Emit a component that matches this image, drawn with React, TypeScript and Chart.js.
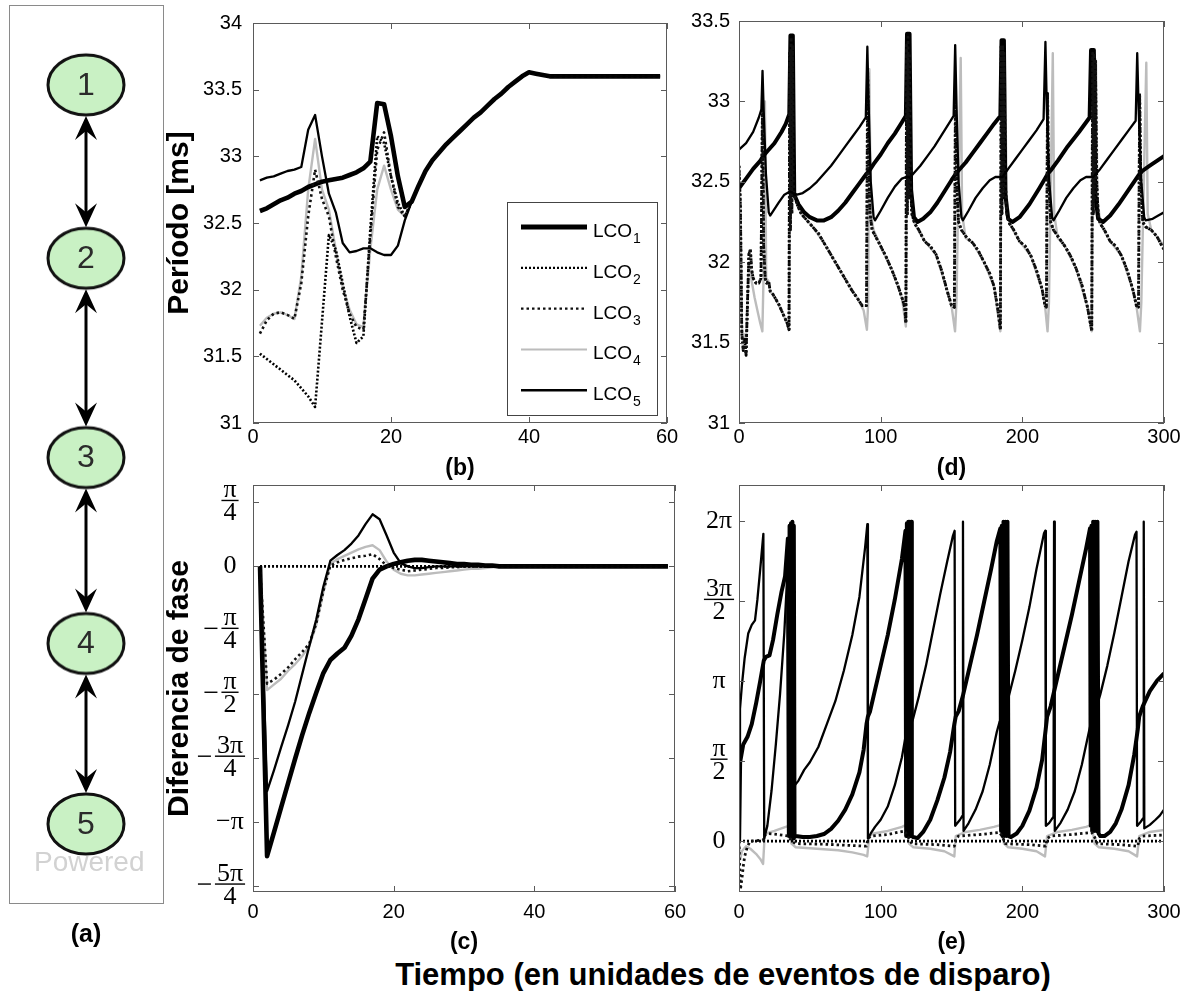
import React, { useEffect, useRef } from 'react';
import { Chart, registerables } from 'chart.js';

Chart.register(...registerables);

const SANS = "'Liberation Sans', Arial, Helvetica, sans-serif";
const SERIF = "'Liberation Serif', 'Times New Roman', serif";
const PI = Math.PI;

const seriesLabels = ['LCO1', 'LCO2', 'LCO3', 'LCO4', 'LCO5'];

// ---------------- (a) network diagram ----------------
const nodeLabels = ['1', '2', '3', '4', '5'];
const nodeX = [0.5, 0.5, 0.5, 0.5, 0.5];
const nodeY = [8.9, 28.2, 50.4, 71.1, 91.2];
const nodeEdges = [[0, 1], [1, 2], [2, 3], [3, 4]];

// ---------------- (b) period, first 60 events ----------------
const bX = [1, 2, 3, 4, 5, 6, 7, 8, 9, 10, 11, 12, 13, 14, 15, 16, 17, 18, 19, 20, 21, 22, 23, 24, 25, 26, 27, 28, 29, 30,
  31, 32, 33, 34, 35, 36, 37, 38, 39, 40, 41, 42, 43, 44, 45, 46, 47, 48, 49, 50, 51, 52, 53, 54, 55, 56, 57, 58, 59];
const bTail = [32.78, 32.89, 32.97, 33.03, 33.09, 33.14, 33.19, 33.24, 33.29, 33.33, 33.38, 33.43, 33.47, 33.52, 33.56,
  33.60, 33.63, 33.62, 33.61, 33.60, 33.60, 33.60, 33.60, 33.60, 33.60, 33.60, 33.60, 33.60, 33.60, 33.60, 33.60, 33.60,
  33.60, 33.60, 33.60, 33.60];
const bLCO1 = [32.59, 32.61, 32.64, 32.67, 32.69, 32.72, 32.74, 32.77, 32.79, 32.81, 32.82, 32.83, 32.84, 32.86, 32.88,
  32.91, 32.96, 33.40, 33.39, 33.15, 32.85, 32.62, 32.66];
const bLCO2 = [31.52, 31.48, 31.44, 31.40, 31.36, 31.32, 31.26, 31.20, 31.12, 31.76, 32.41, 32.30, 32.05, 31.80, 31.60,
  31.65, 32.45, 33.15, 33.10, 32.85, 32.65, 32.55, 32.66];
const bLCO3 = [31.67, 31.77, 31.82, 31.83, 31.81, 31.78, 32.05, 32.55, 32.90, 32.68, 32.55, 32.25, 32.00, 31.82, 31.72,
  31.70, 32.40, 33.05, 33.18, 32.85, 32.62, 32.55, 32.66];
const bLCO4 = [31.73, 31.79, 31.82, 31.83, 31.81, 31.78, 32.10, 32.75, 33.13, 32.75, 32.60, 32.30, 32.02, 31.85, 31.74,
  31.72, 32.30, 32.75, 32.93, 32.75, 32.60, 32.55, 32.66];
const bLCO5 = [32.82, 32.84, 32.85, 32.87, 32.89, 32.90, 32.92, 33.20, 33.31, 33.00, 32.72, 32.58, 32.35, 32.28, 32.29,
  32.31, 32.31, 32.28, 32.26, 32.26, 32.33, 32.52, 32.66];

// ---------------- (c) phase difference, first 60 events ----------------
const cX = bX;
const cTail = [0, 0, 0, 0, 0, 0, 0, 0, 0, 0, 0, 0, 0, 0, 0, 0, 0, 0, 0, 0, 0, 0, 0, 0];
const cLCO1 = [0, -3.56, -3.26, -2.96, -2.66, -2.36, -2.07, -1.80, -1.55, -1.31, -1.15, -1.07, -1.00, -0.85, -0.65,
  -0.40, -0.15, -0.04, 0.00, 0.03, 0.05, 0.07, 0.08, 0.08, 0.07, 0.06, 0.05, 0.04, 0.03, 0.03, 0.02, 0.02, 0.01, 0.01, 0];
const cLCO2 = [0, 0, 0, 0, 0, 0, 0, 0, 0, 0, 0, 0, 0, 0, 0, 0, 0, 0, 0, 0, 0, 0, 0, 0, 0, 0, 0, 0, 0, 0, 0, 0, 0, 0, 0];
const cLCO3 = [0, -1.44, -1.39, -1.32, -1.24, -1.14, -1.05, -0.95, -0.70, -0.30, 0.01, 0.05, 0.08, 0.10, 0.12, 0.13,
  0.15, 0.09, 0.01, -0.02, -0.04, -0.06, -0.05, -0.04, -0.03, -0.02, -0.02, -0.01, -0.01, 0, 0, 0, 0, 0, 0];
const cLCO4 = [0, -1.52, -1.45, -1.38, -1.28, -1.20, -1.10, -0.98, -0.72, -0.32, 0.03, 0.09, 0.13, 0.17, 0.21, 0.24,
  0.26, 0.20, 0.06, -0.04, -0.09, -0.11, -0.11, -0.10, -0.09, -0.08, -0.07, -0.06, -0.05, -0.04, -0.03, -0.03, -0.02,
  -0.01, 0];
const cLCO5 = [0, -2.76, -2.50, -2.22, -1.95, -1.66, -1.32, -0.98, -0.65, -0.25, 0.07, 0.14, 0.20, 0.28, 0.38, 0.52,
  0.64, 0.58, 0.38, 0.17, 0.04, 0.00, -0.02, -0.02, -0.01, 0, 0, 0, 0, 0, 0, 0, 0, 0, 0];
const cTickValues = [-5 * PI / 4, -PI, -3 * PI / 4, -PI / 2, -PI / 4, 0, PI / 4];
const cTickLabels = [
  { neg: true, num: '5π', den: '4' }, { neg: true, num: 'π' }, { neg: true, num: '3π', den: '4' },
  { neg: true, num: 'π', den: '2' }, { neg: true, num: 'π', den: '4' }, { num: '0' }, { num: 'π', den: '4' },
];

// ---------------- (d) period, 300 events (x, value) ----------------
const dLCO1: [number, number][] = [[0, 32.46], [5, 32.52], [10, 32.58], [15, 32.63], [17, 32.66], [20, 32.69], [25, 32.74],
  [30, 32.81], [33, 32.86], [35.5, 32.92], [36.3, 33.41], [38, 33.41], [39, 32.42], [42, 32.36], [46, 32.31], [50, 32.28],
  [55, 32.26], [60, 32.26], [65, 32.28], [70, 32.32], [75, 32.37], [80, 32.43], [85, 32.49], [90, 32.55], [92, 32.57],
  [95, 32.61], [100, 32.67], [105, 32.74], [110, 32.80], [115, 32.87], [117.8, 32.91], [118.6, 33.42], [120.4, 33.42],
  [121.5, 32.45], [123.5, 32.28], [126, 32.25], [130, 32.27], [135, 32.31], [140, 32.37], [145, 32.44], [150, 32.51],
  [153, 32.55], [155, 32.57], [160, 32.62], [165, 32.68], [170, 32.74], [175, 32.80], [180, 32.86], [184.5, 32.91],
  [185.3, 33.38], [187, 33.38], [188, 32.42], [190, 32.27], [193, 32.25], [198, 32.28], [205, 32.36], [212, 32.46],
  [218, 32.55], [220, 32.57], [225, 32.63], [232, 32.72], [240, 32.81], [247.5, 32.90], [248.5, 33.32], [250.5, 33.32],
  [251.5, 32.42], [253.5, 32.27], [257, 32.25], [262, 32.29], [268, 32.36], [275, 32.45], [282, 32.54], [285, 32.57],
  [290, 32.60], [295, 32.63], [300, 32.66]];
const dLCO2: [number, number][] = [[0, 32.60], [1, 32.35], [2, 31.55], [3, 31.45], [4, 31.52], [5, 31.42], [6, 31.75],
  [7, 32.05], [8, 32.08], [9, 31.95], [10, 31.90], [12, 31.87], [14, 31.87], [15.5, 31.90], [16.6, 33.00], [17.4, 32.10],
  [18.5, 31.90], [19.5, 31.87], [21, 31.88], [22, 31.82], [24, 31.80], [26, 31.77], [28, 31.74], [30, 31.70], [32, 31.66],
  [34, 31.62], [35.3, 31.58], [35.8, 33.30], [36.3, 32.20], [36.8, 33.40], [37.3, 32.30], [37.8, 33.35], [38.3, 32.50],
  [39, 32.42], [41, 32.36], [44, 32.30], [48, 32.26], [52, 32.22], [56, 32.18], [60, 32.12], [64, 32.06], [68, 32.00],
  [72, 31.94], [76, 31.88], [80, 31.82], [84, 31.77], [87, 31.73], [90, 31.73], [90.8, 33.20], [91.6, 32.60], [92.5, 32.30],
  [94, 32.20], [97, 32.15], [100, 32.10], [104, 32.03], [108, 31.95], [112, 31.86], [115, 31.78], [117, 31.72],
  [117.8, 31.62], [118.3, 33.35], [118.8, 32.30], [119.3, 33.40], [119.8, 32.40], [120.3, 33.30], [121, 32.50],
  [122, 32.30], [124, 32.24], [127, 32.20], [131, 32.13], [135, 32.10], [139, 32.05], [143, 31.95], [147, 31.82],
  [150, 31.73], [152, 31.72], [152.8, 33.05], [153.6, 32.50], [155, 32.25], [157, 32.20], [161, 32.15], [165, 32.12],
  [169, 32.07], [173, 32.00], [177, 31.93], [180, 31.85], [182.5, 31.72], [184.5, 31.58], [185.1, 33.35], [185.6, 32.30],
  [186.1, 33.35], [186.6, 32.40], [187.1, 33.30], [188, 32.50], [189, 32.30], [191, 32.24], [194, 32.20], [198, 32.13],
  [202, 32.10], [206, 32.04], [210, 31.95], [214, 31.83], [216, 31.73], [217, 31.72], [217.8, 33.05], [218.6, 32.50],
  [220, 32.25], [222, 32.20], [226, 32.15], [230, 32.10], [234, 32.04], [238, 31.96], [242, 31.86], [246, 31.72],
  [248, 31.62], [249, 31.57], [249.6, 33.30], [250.1, 32.30], [250.6, 33.30], [251.1, 32.40], [251.6, 33.25],
  [252.5, 32.50], [253.5, 32.30], [255, 32.24], [258, 32.20], [262, 32.13], [266, 32.10], [270, 32.04], [274, 31.95],
  [278, 31.83], [280.5, 31.73], [282, 31.72], [282.8, 33.05], [283.6, 32.50], [285, 32.25], [287, 32.22], [291, 32.20],
  [295, 32.16], [298, 32.11], [300, 32.08]];
const dLCO3 = dLCO2;
const dLCO4: [number, number][] = [[0, 32.55], [1, 32.35], [2, 31.60], [3, 31.50], [4, 31.55], [5, 31.50], [6, 31.75],
  [7, 32.00], [8, 31.95], [9, 31.88], [11, 31.78], [13, 31.70], [15, 31.62], [16.5, 31.57], [17.3, 31.90], [18.3, 33.00],
  [19.2, 31.90], [21, 31.88], [22, 31.82], [26, 31.77], [30, 31.70], [34, 31.62], [35.3, 31.58], [36.5, 33.35],
  [38, 33.35], [39, 32.42], [44, 32.30], [52, 32.22], [60, 32.12], [68, 32.00], [76, 31.88], [84, 31.77], [88, 31.70],
  [90.3, 31.58], [91.2, 31.75], [92, 33.20], [93, 32.30], [95, 32.20], [100, 32.10], [108, 31.95], [115, 31.78],
  [117.8, 31.60], [118.8, 33.35], [120.3, 33.30], [121.5, 32.40], [124, 32.24], [131, 32.13], [139, 32.05], [147, 31.82],
  [150, 31.73], [152.5, 31.57], [153.5, 31.75], [156.5, 33.27], [157.5, 32.30], [160, 32.15], [165, 32.12], [173, 32.00],
  [180, 31.85], [184.5, 31.57], [185.5, 33.35], [187.5, 33.30], [189, 32.40], [191, 32.24], [198, 32.13], [206, 32.04],
  [214, 31.83], [216, 31.73], [217.8, 31.57], [218.8, 31.75], [221.5, 33.30], [222.5, 32.30], [225, 32.15], [230, 32.10],
  [238, 31.96], [246, 31.72], [249, 31.57], [250, 33.30], [252, 33.25], [253, 32.40], [255, 32.24], [262, 32.13],
  [270, 32.04], [278, 31.83], [280.5, 31.73], [283, 31.57], [284, 31.75], [287.5, 33.24], [288.5, 32.30], [291, 32.20],
  [295, 32.16], [300, 32.10]];
const dLCO5: [number, number][] = [[0, 32.70], [5, 32.74], [10, 32.81], [14, 32.90], [15.8, 32.95], [16.6, 33.19],
  [17.4, 32.95], [19, 32.55], [21, 32.31], [22, 32.29], [25, 32.33], [28, 32.37], [32, 32.42], [36, 32.44], [38, 32.43],
  [41, 32.42], [45, 32.43], [50, 32.46], [55, 32.50], [60, 32.55], [65, 32.60], [70, 32.66], [75, 32.72], [80, 32.78],
  [85, 32.84], [89.5, 32.90], [90.6, 33.34], [91.6, 32.95], [93, 32.50], [95, 32.28], [96, 32.26], [100, 32.32],
  [105, 32.40], [110, 32.47], [115, 32.52], [118, 32.53], [121, 32.53], [123, 32.55], [128, 32.60], [133, 32.66],
  [138, 32.72], [143, 32.79], [148, 32.86], [151.5, 32.91], [152.6, 33.35], [153.6, 32.95], [155, 32.50], [157, 32.28],
  [158, 32.26], [162, 32.32], [167, 32.40], [172, 32.46], [177, 32.51], [181, 32.53], [186, 32.53], [190, 32.58],
  [195, 32.64], [200, 32.70], [205, 32.76], [210, 32.82], [215, 32.89], [216.3, 33.37], [217.3, 32.95], [219, 32.50],
  [221, 32.28], [222, 32.26], [226, 32.32], [231, 32.40], [236, 32.46], [241, 32.51], [245, 32.53], [250, 32.53],
  [255, 32.58], [260, 32.64], [265, 32.70], [270, 32.76], [275, 32.82], [280, 32.88], [281.1, 33.30], [282.1, 32.95],
  [284, 32.50], [286, 32.28], [287, 32.26], [292, 32.27], [296, 32.29], [300, 32.31]];

// ---------------- (e) phase difference, 300 events (x, value) ----------------
const eLCO1: [number, number][] = [[0, 0], [0.8, 1.55], [3, 1.90], [6, 2.05], [9, 2.30], [12, 2.70], [15, 3.15],
  [17.5, 3.55], [19, 3.62], [21.5, 3.65], [24, 3.95], [27, 4.45], [30, 4.90], [32.5, 5.20], [34.5, 5.95], [35.2, 0.10],
  [35.7, 6.20], [36.2, 0.10], [36.7, 6.25], [37.2, 0.10], [37.7, 6.28], [38.2, 0.05], [38.7, 6.20], [39.2, 0.08],
  [40, 0.10], [45, 0.08], [50, 0.08], [55, 0.10], [60, 0.14], [65, 0.24], [70, 0.40], [75, 0.62], [80, 0.92], [85, 1.35],
  [88, 1.80], [90, 2.30], [91, 2.45], [92.5, 2.55], [95, 2.85], [100, 3.45], [105, 4.05], [110, 4.75], [115, 5.55],
  [117.5, 6.10], [118, 0.10], [118.5, 6.25], [119, 0.15], [119.5, 6.28], [120, 0.10], [120.5, 6.28], [121, 0.10],
  [121.5, 6.28], [122, 0.10], [123, 0.08], [126, 0.06], [130, 0.18], [135, 0.42], [140, 0.80], [145, 1.25], [149, 1.75],
  [152, 2.30], [153, 2.45], [155, 2.55], [158, 2.85], [163, 3.45], [168, 4.05], [173, 4.70], [178, 5.35], [182, 5.90],
  [184.5, 6.15], [185, 0.20], [185.5, 6.20], [186, 0.10], [186.7, 6.28], [187.3, 0.10], [188, 6.28], [188.7, 0.10],
  [189.5, 6.28], [190.3, 0.10], [192, 0.08], [196, 0.15], [200, 0.30], [205, 0.60], [210, 1.05], [214, 1.60],
  [216.5, 2.20], [217.5, 2.45], [220, 2.65], [225, 3.25], [230, 3.85], [235, 4.45], [240, 5.10], [245, 5.75],
  [247.8, 6.15], [248.3, 0.30], [248.8, 6.20], [249.3, 0.20], [250, 6.28], [250.7, 0.20], [251.4, 6.28], [252.2, 0.20],
  [253, 6.28], [253.8, 0.15], [255, 0.10], [258, 0.10], [262, 0.18], [266, 0.35], [270, 0.62], [275, 1.10], [279, 1.70],
  [281.5, 2.20], [282.5, 2.45], [285, 2.65], [290, 2.95], [295, 3.15], [300, 3.30]];
const eLCO2: [number, number][] = [[0, 0], [300, 0]];
const eLCO3: [number, number][] = [[0, 0], [1, -0.95], [2, -0.75], [3, -0.50], [4, -0.30], [6, -0.10], [8, 0],
  [17, 0.02], [18, 0.12], [20, 0.15], [27, 0.13], [35, 0.10], [37, 0], [40, -0.05], [60, -0.06], [75, -0.08], [90, -0.10],
  [91, 0.05], [93, 0.10], [105, 0.13], [117, 0.20], [119, 0.10], [122, -0.05], [140, -0.07], [152, -0.10], [153, 0.05],
  [155, 0.10], [170, 0.13], [184, 0.17], [186, 0.08], [188, -0.05], [205, -0.07], [216.5, -0.10], [217.5, 0.05],
  [220, 0.10], [235, 0.13], [249, 0.17], [251, 0.08], [253, -0.05], [270, -0.07], [281.5, -0.10], [282.5, 0.05],
  [285, 0.10], [300, 0.12]];
const eLCO4: [number, number][] = [[0, 0], [1, -0.35], [2, -0.20], [5, -0.10], [8, -0.15], [12, -0.25], [15, -0.35],
  [17, -0.45], [18, 0.05], [19, 0.15], [25, 0.20], [30, 0.25], [35, 0.30], [37, -0.05], [40, -0.12], [50, -0.14],
  [60, -0.16], [70, -0.18], [80, -0.22], [88, -0.27], [90.5, -0.30], [92, 0.10], [95, 0.15], [105, 0.20], [115, 0.28],
  [118, 0.32], [120, -0.05], [123, -0.12], [135, -0.15], [145, -0.20], [152, -0.30], [153, 0.10], [160, 0.18],
  [170, 0.22], [180, 0.28], [185, 0.32], [187, -0.05], [190, -0.12], [200, -0.15], [210, -0.20], [216, -0.30],
  [217.5, 0.10], [225, 0.18], [235, 0.22], [245, 0.28], [249, 0.32], [251, -0.05], [254, -0.12], [265, -0.15],
  [275, -0.20], [281, -0.30], [282.5, 0.10], [290, 0.18], [300, 0.22]];
const eLCO5: [number, number][] = [[0, 0], [0.7, 2.60], [2, 3.05], [4, 3.60], [6.5, 4.08], [9, 4.25], [11.3, 4.34],
  [13, 4.75], [15, 5.35], [17.2, 6.04], [17.8, 0.05], [20, 0.30], [23, 1.00], [26, 1.90], [29, 2.90], [32, 4.10],
  [34, 5.20], [35.5, 6.00], [36.2, 0.20], [37.2, 6.20], [38.2, 0.30], [39.5, 1.10], [42, 1.19], [46, 1.40], [50, 1.55],
  [56, 1.85], [62, 2.30], [68, 2.75], [74, 3.35], [80, 4.05], [85, 4.80], [89, 5.77], [90.6, 6.23], [91, 0.05],
  [93, 0.15], [96, 0.28], [100, 0.42], [105, 0.68], [110, 1.10], [115, 1.65], [117.5, 2.05], [119, 2.20], [121.5, 2.30],
  [123, 2.42], [127, 2.85], [132, 3.45], [137, 4.15], [142, 4.85], [147, 5.50], [151, 6.00], [152.2, 6.10],
  [152.6, 0.30], [154, 0.35], [156, 0.42], [157.8, 0.50], [158.1, 6.28], [158.5, 0.20], [162, 0.35], [167, 0.62],
  [172, 0.98], [177, 1.50], [182, 2.15], [184, 2.35], [187, 2.50], [190, 2.80], [195, 3.35], [200, 3.95], [205, 4.60],
  [210, 5.35], [215.3, 6.05], [216.2, 6.10], [216.6, 0.30], [219, 0.36], [222, 0.48], [222.4, 6.28], [222.9, 0.20],
  [227, 0.36], [232, 0.62], [237, 0.98], [242, 1.50], [247, 2.15], [249, 2.40], [252, 2.60], [255, 2.88], [260, 3.45],
  [265, 4.10], [270, 4.80], [275, 5.50], [279.5, 6.02], [280.6, 6.08], [281, 0.30], [283, 0.36], [285.3, 0.45],
  [285.7, 6.28], [286.1, 0.25], [290, 0.32], [294, 0.42], [297, 0.50], [300, 0.62]];
const eTickValues = [0, PI / 2, PI, 3 * PI / 2, 2 * PI];
const eTickLabels = [{ num: '0' }, { num: 'π', den: '2' }, { num: 'π' }, { num: '3π', den: '2' }, { num: '2π' }];

// ---------------- styling ----------------
const lineColors = ['#000000', '#000000', '#111111', '#bcbcbc', '#000000'];
const lineDashes = [[], [2, 2], [2.5, 3], [], []];
const lineOrder = [4, 3, 2, 10, 1]; // gray LCO4 underneath, thin LCO5 on top
const widthsSmallRange = [4.6, 2.6, 2.6, 2.4, 2.3];
const widthsLongRange = [4.0, 2.8, 2.8, 2.4, 2.3];
const legendWidths = [5, 2.2, 2.2, 2, 2.5];

type Geom = { L: number; T: number; W: number; H: number; left: number; top: number; right: number; bottom: number };
type PiLabel = { neg?: boolean; num: string; den?: string };

const framePlugin = {
  id: 'matlabFrame',
  afterDraw(chart: any) {
    const { ctx, chartArea: a } = chart;
    const xs = chart.scales.x;
    const ys = chart.scales.y;
    ctx.save();
    ctx.strokeStyle = '#5a5a5a';
    ctx.lineWidth = 1;
    ctx.strokeRect(Math.round(a.left) + 0.5, Math.round(a.top) + 0.5, Math.round(a.width) - 1, Math.round(a.height) - 1);
    const len = 6;
    ctx.beginPath();
    for (const t of xs.ticks) {
      const p = Math.round(xs.getPixelForValue(t.value)) + 0.5;
      ctx.moveTo(p, a.bottom); ctx.lineTo(p, a.bottom - len);
      ctx.moveTo(p, a.top); ctx.lineTo(p, a.top + len);
    }
    for (const t of ys.ticks) {
      const p = Math.round(ys.getPixelForValue(t.value)) + 0.5;
      ctx.moveTo(a.left, p); ctx.lineTo(a.left + len, p);
      ctx.moveTo(a.right, p); ctx.lineTo(a.right - len, p);
    }
    ctx.stroke();
    ctx.restore();
  },
};

function piLabelPlugin(values: number[], labels: PiLabel[], offset: number) {
  return {
    id: 'piLabels',
    afterDraw(chart: any) {
      const { ctx, chartArea: a } = chart;
      const ys = chart.scales.y;
      const cx = a.left - offset;
      ctx.save();
      ctx.fillStyle = '#000';
      ctx.font = `26px ${SERIF}`;
      labels.forEach((lab, i) => {
        const y = ys.getPixelForValue(values[i]);
        if (lab.den) {
          ctx.textAlign = 'center';
          ctx.textBaseline = 'alphabetic';
          const w = Math.max(ctx.measureText(lab.num).width, ctx.measureText(lab.den).width) + 4;
          const by = y - 2;
          ctx.fillText(lab.num, cx, by - 3);
          ctx.fillText(lab.den, cx, by + 20);
          ctx.fillRect(cx - w / 2, by - 0.7, w, 1.4);
          if (lab.neg) ctx.fillRect(cx - w / 2 - 17, by - 0.7, 13, 1.4);
        } else {
          ctx.textAlign = 'center';
          ctx.textBaseline = 'middle';
          ctx.fillText((lab.neg ? '−' : '') + lab.num, cx, y);
        }
      });
      ctx.restore();
    },
  };
}

const legendPlugin = {
  id: 'lcoLegend',
  afterDraw(chart: any) {
    const { ctx, chartArea: a } = chart;
    const w = 150;
    const h = 213;
    const x0 = Math.round(a.right - 10 - w);
    const y0 = Math.round(a.bottom - 8 - h);
    ctx.save();
    ctx.fillStyle = '#fff';
    ctx.fillRect(x0, y0, w, h);
    ctx.strokeStyle = '#444';
    ctx.lineWidth = 1;
    ctx.strokeRect(x0 + 0.5, y0 + 0.5, w, h);
    chart.data.datasets.forEach((ds: any, i: number) => {
      const y = y0 + 25 + i * 40.8;
      ctx.beginPath();
      ctx.setLineDash(ds.borderDash || []);
      ctx.lineWidth = legendWidths[i];
      ctx.strokeStyle = ds.borderColor;
      ctx.moveTo(x0 + 14, y);
      ctx.lineTo(x0 + 80, y);
      ctx.stroke();
      ctx.setLineDash([]);
      const base = ds.label.replace(/\d+$/, '');
      const sub = ds.label.slice(base.length);
      ctx.fillStyle = '#000';
      ctx.textAlign = 'left';
      ctx.textBaseline = 'alphabetic';
      ctx.font = `19px ${SANS}`;
      ctx.fillText(base, x0 + 86, y + 10);
      const bw = ctx.measureText(base).width;
      ctx.font = `14px ${SANS}`;
      ctx.fillText(sub, x0 + 87 + bw, y + 16);
    });
    ctx.restore();
  },
};

type LineCfg = {
  series: { x: number; y: number }[][];
  widths: number[];
  xMax: number; xStep: number;
  yMin: number; yMax: number; yStep?: number;
  yTicks?: number[];
  yTitle?: string;
  xTitle: string;
  xTickPad: number; yTickPad: number;
  showYLabels: boolean;
  extra: any[];
};

function buildLineChart(canvas: HTMLCanvasElement, g: Geom, cfg: LineCfg) {
  const yW = g.left - g.L;
  const xH = g.T + g.H - g.bottom;
  const tickFont = { size: 20, family: SANS };
  return new Chart(canvas, {
    type: 'line',
    data: {
      datasets: cfg.series.map((pts, i) => ({
        label: seriesLabels[i],
        data: pts,
        borderColor: lineColors[i],
        backgroundColor: lineColors[i],
        borderWidth: cfg.widths[i],
        borderDash: lineDashes[i],
        borderJoinStyle: 'round',
        pointRadius: 0,
        tension: 0,
        fill: false,
        order: lineOrder[i],
      })),
    },
    options: {
      responsive: false,
      animation: false,
      events: [],
      layout: { autoPadding: false, padding: { left: 0, top: g.top - g.T, right: g.L + g.W - g.right, bottom: 0 } },
      plugins: { legend: { display: false }, tooltip: { enabled: false } },
      scales: {
        x: {
          type: 'linear', min: 0, max: cfg.xMax,
          grid: { display: false, drawTicks: false },
          border: { display: false },
          ticks: { stepSize: cfg.xStep, padding: cfg.xTickPad, font: tickFont, color: '#000', maxRotation: 0, autoSkip: false,
            callback: (v: any) => String(v) },
          title: { display: true, text: cfg.xTitle, color: '#000', font: { size: 23, weight: 'bold', family: SANS }, padding: 0 },
          afterFit: (s: any) => { s.height = xH; },
        },
        y: {
          type: 'linear', min: cfg.yMin, max: cfg.yMax,
          grid: { display: false, drawTicks: false },
          border: { display: false },
          ticks: { display: cfg.showYLabels, stepSize: cfg.yStep, padding: cfg.yTickPad, font: tickFont, color: '#000',
            autoSkip: false, callback: (v: any) => String(v) },
          title: cfg.yTitle
            ? { display: true, text: cfg.yTitle, color: '#000', font: { size: 30, weight: 'bold', family: SANS }, padding: { top: 2, bottom: 0 } }
            : { display: false },
          afterFit: (s: any) => { s.width = yW; },
          afterBuildTicks: cfg.yTicks ? (s: any) => { s.ticks = cfg.yTicks!.map((v) => ({ value: v })); } : undefined,
        },
      },
    } as any,
    plugins: [framePlugin, ...cfg.extra],
  });
}

const toPts = (xs: number[], ys: number[]) => ys.map((y, i) => ({ x: xs[i], y }));
const pairPts = (pairs: [number, number][]) => pairs.map(([x, y]) => ({ x, y }));

const RX = 38;
const RY = 30;

function makeNodeImage() {
  const c = document.createElement('canvas');
  c.width = 2 * RX + 6;
  c.height = 2 * RY + 6;
  const g = c.getContext('2d')!;
  g.beginPath();
  g.ellipse(c.width / 2, c.height / 2, RX, RY, 0, 0, 2 * Math.PI);
  g.fillStyle = '#c9f1c4';
  g.fill();
  g.lineWidth = 3;
  g.strokeStyle = '#111';
  g.stroke();
  return c;
}

function drawHead(ctx: CanvasRenderingContext2D, x: number, tipY: number, dir: number) {
  ctx.beginPath();
  ctx.moveTo(x, tipY);
  ctx.lineTo(x - 11, tipY - dir * 24);
  ctx.lineTo(x, tipY - dir * 15);
  ctx.lineTo(x + 11, tipY - dir * 24);
  ctx.closePath();
  ctx.fill();
}

const graphPlugin = {
  id: 'graphDeco',
  beforeDatasetsDraw(chart: any) {
    const { ctx, chartArea: a } = chart;
    const meta = chart.getDatasetMeta(0);
    ctx.save();
    ctx.font = `28px ${SANS}`;
    ctx.fillStyle = '#d2d2d2';
    ctx.textAlign = 'left';
    ctx.textBaseline = 'alphabetic';
    ctx.fillText('Powered', a.left + 25, a.bottom - 32);
    ctx.fillStyle = '#000';
    ctx.strokeStyle = '#000';
    ctx.lineWidth = 3;
    for (const [i, j] of nodeEdges) {
      const p = meta.data[i];
      const q = meta.data[j];
      const y1 = p.y + RY + 1;
      const y2 = q.y - RY - 1;
      ctx.beginPath();
      ctx.moveTo(p.x, y1 + 14);
      ctx.lineTo(p.x, y2 - 14);
      ctx.stroke();
      drawHead(ctx, p.x, y1, -1);
      drawHead(ctx, p.x, y2, 1);
    }
    ctx.restore();
  },
  afterDatasetsDraw(chart: any) {
    const { ctx } = chart;
    const meta = chart.getDatasetMeta(0);
    ctx.save();
    ctx.font = `32px ${SANS}`;
    ctx.fillStyle = '#2b2b2b';
    ctx.textAlign = 'center';
    ctx.textBaseline = 'middle';
    meta.data.forEach((pt: any, i: number) => ctx.fillText(nodeLabels[i], pt.x, pt.y + 1));
    ctx.restore();
  },
  afterDraw(chart: any) {
    const { ctx, chartArea: a } = chart;
    ctx.save();
    ctx.strokeStyle = '#8a8a8a';
    ctx.lineWidth = 1;
    ctx.strokeRect(Math.round(a.left) + 0.5, Math.round(a.top) + 0.5, Math.round(a.width), Math.round(a.height));
    ctx.restore();
  },
};

function buildGraph(canvas: HTMLCanvasElement, g: Geom) {
  const img = makeNodeImage();
  return new Chart(canvas, {
    type: 'scatter',
    data: {
      datasets: [{
        label: 'nodes',
        data: nodeX.map((x, i) => ({ x, y: nodeY[i] })),
        pointStyle: img,
        pointRadius: 2,
        showLine: false,
      }],
    },
    options: {
      responsive: false,
      animation: false,
      events: [],
      layout: { autoPadding: false, padding: { left: 0, top: g.top - g.T, right: g.L + g.W - g.right, bottom: 0 } },
      plugins: { legend: { display: false }, tooltip: { enabled: false } },
      scales: {
        x: {
          type: 'linear', min: 0, max: 1,
          grid: { display: false, drawTicks: false }, border: { display: false },
          ticks: { display: false },
          title: { display: true, text: '(a)', color: '#000', font: { size: 25, weight: 'bold', family: SANS }, padding: 0 },
          afterFit: (s: any) => { s.height = g.T + g.H - g.bottom; },
        },
        y: {
          type: 'linear', min: 0, max: 100, reverse: true,
          grid: { display: false, drawTicks: false }, border: { display: false },
          ticks: { display: false },
          afterFit: (s: any) => { s.width = g.left - g.L; },
        },
      },
    } as any,
    plugins: [graphPlugin],
  });
}

function Panel({ geom, build }: { geom: Geom; build: (c: HTMLCanvasElement, g: Geom) => Chart }) {
  const ref = useRef<HTMLCanvasElement>(null);
  useEffect(() => {
    const chart = build(ref.current!, geom);
    return () => chart.destroy();
  }, []);
  return (
    <canvas
      ref={ref}
      width={geom.W}
      height={geom.H}
      style={{ position: 'absolute', left: geom.L, top: geom.T, width: geom.W, height: geom.H }}
    />
  );
}

const geomA: Geom = { L: 0, T: 0, W: 170, H: 950, left: 9, top: 5, right: 163, bottom: 903 };
const geomB: Geom = { L: 160, T: 0, W: 530, H: 482, left: 253, top: 22, right: 667, bottom: 423 };
const geomC: Geom = { L: 160, T: 480, W: 540, H: 476, left: 253, top: 485, right: 675, bottom: 892 };
const geomD: Geom = { L: 680, T: 0, W: 513, H: 482, left: 739, top: 16, right: 1164, bottom: 423 };
const geomE: Geom = { L: 680, T: 480, W: 513, H: 476, left: 739, top: 485, right: 1164, bottom: 892 };

export default function App() {
  const buildB = (c: HTMLCanvasElement, g: Geom) => buildLineChart(c, g, {
    series: [bLCO1, bLCO2, bLCO3, bLCO4, bLCO5].map((h) => toPts(bX, h.concat(bTail))),
    widths: widthsSmallRange, xMax: 60, xStep: 20, yMin: 31, yMax: 34, yStep: 0.5,
    yTitle: 'Período [ms]', xTitle: '(b)', xTickPad: 2, yTickPad: 11, showYLabels: true, extra: [legendPlugin],
  });
  const buildC = (c: HTMLCanvasElement, g: Geom) => buildLineChart(c, g, {
    series: [cLCO1, cLCO2, cLCO3, cLCO4, cLCO5].map((h) => toPts(cX, h.concat(cTail))),
    widths: widthsSmallRange, xMax: 60, xStep: 20, yMin: -4, yMax: 1, yTicks: cTickValues,
    yTitle: 'Diferencia de fase', xTitle: '(c)', xTickPad: 8, yTickPad: 0, showYLabels: false,
    extra: [piLabelPlugin(cTickValues, cTickLabels, 23)],
  });
  const buildD = (c: HTMLCanvasElement, g: Geom) => buildLineChart(c, g, {
    series: [dLCO1, dLCO2, dLCO3, dLCO4, dLCO5].map(pairPts),
    widths: widthsLongRange, xMax: 300, xStep: 100, yMin: 31, yMax: 33.5, yStep: 0.5,
    xTitle: '(d)', xTickPad: 2, yTickPad: 9, showYLabels: true, extra: [],
  });
  const buildE = (c: HTMLCanvasElement, g: Geom) => buildLineChart(c, g, {
    series: [eLCO1, eLCO2, eLCO3, eLCO4, eLCO5].map(pairPts),
    widths: widthsLongRange, xMax: 300, xStep: 100, yMin: -1, yMax: 7, yTicks: eTickValues,
    xTitle: '(e)', xTickPad: 8, yTickPad: 0, showYLabels: false,
    extra: [piLabelPlugin(eTickValues, eTickLabels, 20)],
  });

  return (
    <div style={{ position: 'absolute', left: 0, top: 0, width: 1193, height: 991, background: '#fff', overflow: 'hidden' }}>
      <Panel geom={geomA} build={buildGraph} />
      <Panel geom={geomB} build={buildB} />
      <Panel geom={geomC} build={buildC} />
      <Panel geom={geomD} build={buildD} />
      <Panel geom={geomE} build={buildE} />
      <div
        style={{
          position: 'absolute', left: 323, top: 957, width: 800, height: 36, lineHeight: '36px', textAlign: 'center',
          font: `bold 31px ${SANS}`, color: '#000', whiteSpace: 'nowrap',
        }}
      >
        Tiempo (en unidades de eventos de disparo)
      </div>
    </div>
  );
}
